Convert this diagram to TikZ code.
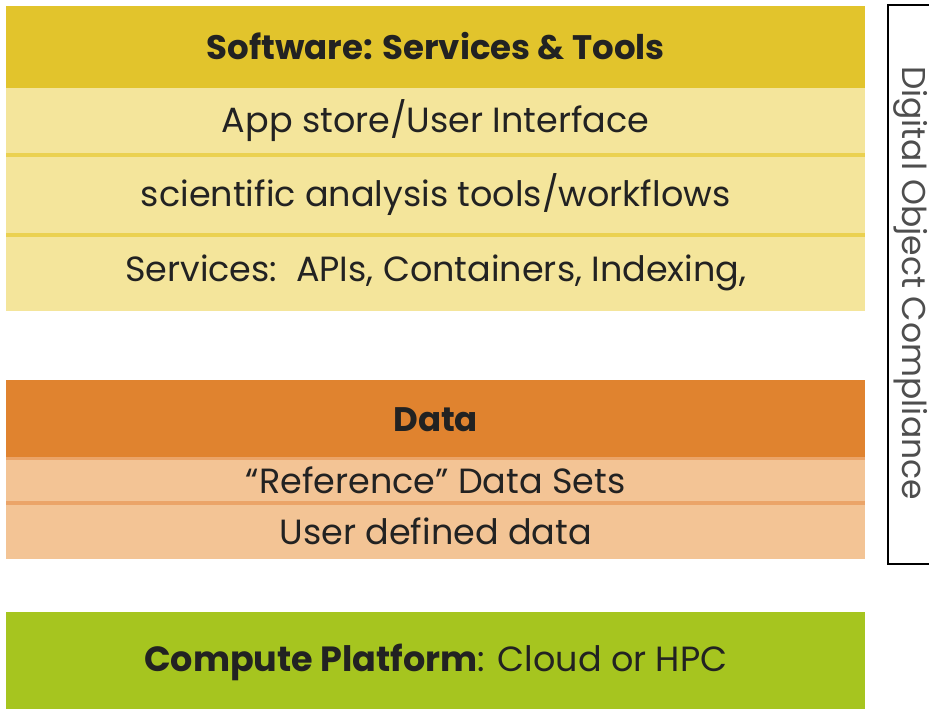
\documentclass[tikz,border=0pt]{standalone}
\usepackage{fontspec}
\setmainfont{Poppins}
\usetikzlibrary{positioning}

\definecolor{swdark}{HTML}{E2C42C}
\definecolor{swlight}{HTML}{F4E59B}
\definecolor{swline}{HTML}{EBD150}
\definecolor{dtdark}{HTML}{E0832F}
\definecolor{dtlight}{HTML}{F3C495}
\definecolor{dtline}{HTML}{EBA468}
\definecolor{cpgreen}{HTML}{A6C51F}
\definecolor{ink}{HTML}{222222}

\tikzset{
  band/.style={anchor=north west, minimum width=859pt, inner sep=0pt,
    text=ink, font=\fontsize{35}{38}\selectfont},
  head/.style={band, font=\fontsize{34}{37}\selectfont\bfseries},
  sep/.style={line width=3.5pt}
}

\begin{document}
\begin{tikzpicture}[x=1pt,y=-1pt]
\useasboundingbox (0,0) rectangle (929,709);
% software layer
\node[head,fill=swdark,minimum height=80pt] (sw) at (6,6) {Software: Services \& Tools};
\node[band,fill=swlight,minimum height=68pt,below=0pt of sw.south west,anchor=north west] (app) {App store/User Interface};
\node[band,fill=swlight,minimum height=80pt,below=0pt of app.south west,anchor=north west] (sci) {scientific analysis tools/workflows};
\node[band,fill=swlight,minimum height=76pt,below=0pt of sci.south west,anchor=north west] (svc) {Services:\ \ APIs, Containers, Indexing,};
\draw[sep,swdark] (app.north west) -- (app.north east);
\draw[sep,swline] (sci.north west) -- (sci.north east);
\draw[sep,swline] (svc.north west) -- (svc.north east);
% data layer
\node[head,fill=dtdark,minimum height=78pt] (data) at (6,380) {Data};
\node[band,fill=dtlight,minimum height=44pt,below=0pt of data.south west,anchor=north west] (ref) {``Reference'' Data Sets};
\node[band,fill=dtlight,minimum height=56pt,below=0pt of ref.south west,anchor=north west] (usr) {User defined data};
\draw[sep,dtline] (ref.north west) -- (ref.north east);
\draw[sep,dtline] (usr.north west) -- (usr.north east);
% compute layer
\node[band,fill=cpgreen,minimum height=100pt] (cpu) at (6,612) {\textbf{Compute Platform}: Cloud or HPC};
% compliance box
\draw[line width=1.8pt] (940,5) -| (888,564) -- (940,564);
\node[rotate=-90,text=ink!80,font=\fontsize{33}{36}\selectfont] (doc) at (911,283) {Digital Object Compliance};
\end{tikzpicture}
\end{document}
